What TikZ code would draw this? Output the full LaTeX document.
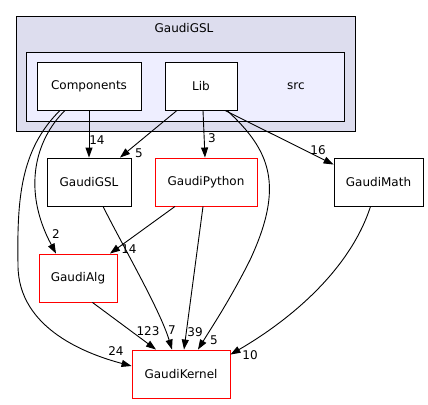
\documentclass[tikz,border=0pt]{standalone}
\usepackage{fontspec}
\setmainfont{DejaVu Sans}
\usetikzlibrary{arrows.meta}
\definecolor{outerfill}{HTML}{DDDDEE}
\definecolor{innerfill}{HTML}{EEEEFF}
\colorlet{dir edge}{black}
\colorlet{dir missing}{red}
\tikzset{dirbox/.style={draw=dir edge, fill=white, line width=0.9pt, inner sep=0pt,
        minimum height=48pt, font=\fontsize{12}{14}\selectfont},
    redbox/.style={dirbox, draw=dir missing},
    dep/.style={-{Triangle[length=10pt,width=7pt]}, line width=0.9pt},
    count/.style={inner sep=0pt, font=\fontsize{12}{14}\selectfont}}

\begin{document}
\begin{tikzpicture}[x=1pt, y=-1pt]
    \useasboundingbox (0,0) rectangle (428,404);
    % clusters
    \draw[fill=outerfill, line width=0.9pt] (16,16) rectangle (355,131);
    \node[count] (outertitle) at (184,28) {GaudiGSL};
    \draw[fill=innerfill, line width=0.9pt] (26,52) rectangle (344,121);
    \node[count] (srctitle) at (296,86) {src};
    % directories
    \node[dirbox, minimum width=104pt] (comp) at (89,86) {Components};
    \node[dirbox, minimum width=72pt] (lib) at (201,86) {Lib};
    \node[dirbox, minimum width=84pt] (gsl) at (89,182) {GaudiGSL};
    \node[redbox, minimum width=102pt] (python) at (206,182) {GaudiPython};
    \node[dirbox, minimum width=89pt] (math) at (378.5,182) {GaudiMath};
    \node[redbox, minimum width=78pt] (alg) at (78,278) {GaudiAlg};
    \node[redbox, minimum width=98pt] (kernel) at (181,374) {GaudiKernel};
    % dependencies
    \draw[dep] (comp.south) -- (gsl.north);
    \draw[dep] ([xshift=-24pt]lib.south) -- ([xshift=31pt]gsl.north);
    \draw[dep] ([xshift=2pt]lib.south) -- ([xshift=-1pt]python.north);
    \draw[dep] ([xshift=24pt]lib.south) -- ([yshift=-7pt]math.north west);
    \draw[dep] ([xshift=26pt]lib.south) .. controls (270,150) and (285,185) .. (250,260)
                                        .. controls (230,300) and (210,330) .. ([xshift=17pt]kernel.north);
    \draw[dep] ([xshift=-24pt]comp.south) .. controls (35,140) and (22,190) .. ([xshift=-22pt]alg.north);
    \draw[dep] ([xshift=-29pt]comp.south) .. controls (20,150) and (17,200) .. (18,265)
                                          .. controls (18,330) and (90,355) .. ([yshift=8pt]kernel.west);
    \draw[dep] ([xshift=14pt]gsl.south) .. controls (125,250) and (160,310) .. ([xshift=-9pt]kernel.north);
    \draw[dep] ([xshift=-31pt]python.south) -- ([xshift=32pt]alg.north);
    \draw[dep] ([xshift=-3pt]python.south) -- ([xshift=3pt]kernel.north);
    \draw[dep] ([xshift=-25pt]alg.south east) -- ([xshift=-25pt]kernel.north);
    \draw[dep] ([xshift=-8pt]math.south) .. controls (350,270) and (290,320) .. ([yshift=-5pt]kernel.north east);
    % counts
    \node[count] (c14a) at (97,140) {14};
    \node[count] (c5a) at (139,153) {5};
    \node[count] (c3) at (212,138) {3};
    \node[count] (c16) at (318,150) {16};
    \node[count] (c2) at (56,234) {2};
    \node[count] (c14b) at (129,249) {14};
    \node[count] (c123) at (148,331) {123};
    \node[count] (c7) at (172,330) {7};
    \node[count] (c39) at (195,332) {39};
    \node[count] (c5b) at (214,340) {5};
    \node[count] (c10) at (250,355) {10};
    \node[count] (c24) at (116,351) {24};
\end{tikzpicture}
\end{document}
